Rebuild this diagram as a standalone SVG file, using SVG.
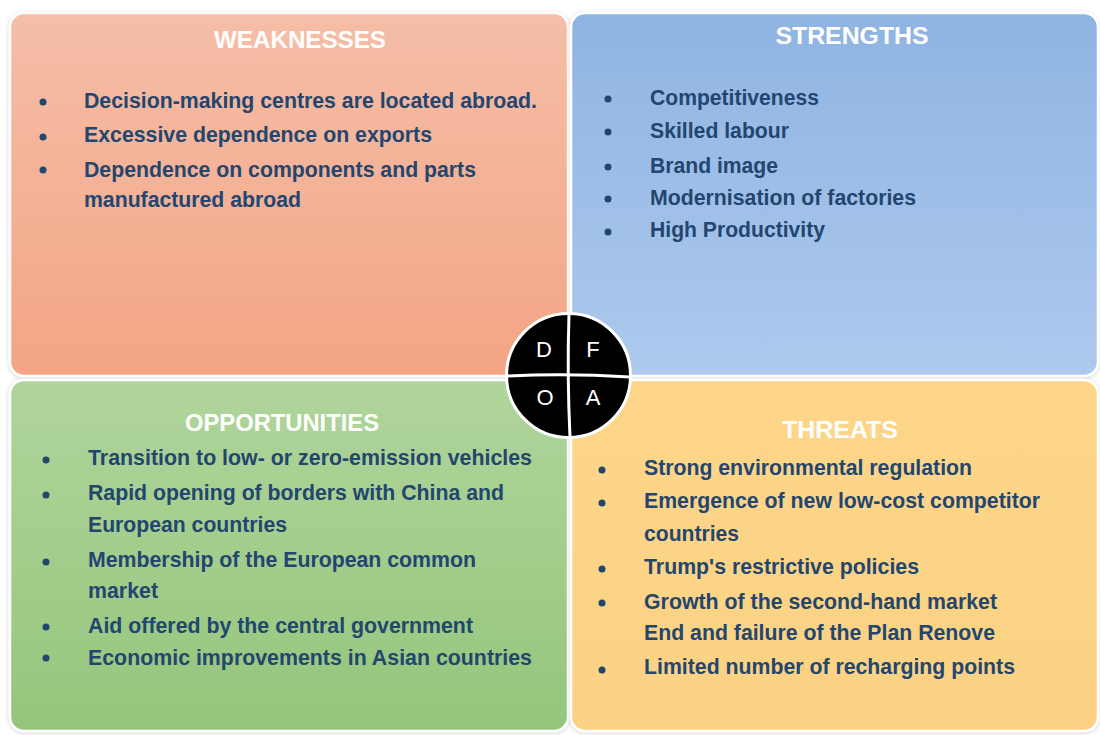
<svg xmlns="http://www.w3.org/2000/svg" width="1100" height="735" viewBox="0 0 1100 735">
  <style>
    .title { font-family: "Liberation Sans", Arial, sans-serif; font-weight: bold; font-size: 23px; fill: #ffffff; }
    .item { font-family: "Liberation Sans Narrow", "Liberation Sans", Arial, sans-serif; font-weight: bold; font-size: 22px; fill: #23466f; }
    .dot { fill: #23466f; }
    .box { stroke: #ffffff; stroke-width: 2.5; }
    .letter { font-family: "Liberation Sans", Arial, sans-serif; font-size: 22px; fill: #ffffff; text-anchor: middle; }
  </style>
  <defs>
    <linearGradient id="gW" x1="0" y1="0" x2="0" y2="1">
      <stop offset="0" stop-color="#f5bea8"/>
      <stop offset="1" stop-color="#f3a584"/>
    </linearGradient>
    <linearGradient id="gS" x1="0" y1="0" x2="0" y2="1">
      <stop offset="0" stop-color="#8fb4e2"/>
      <stop offset="1" stop-color="#adc9ee"/>
    </linearGradient>
    <linearGradient id="gO" x1="0" y1="0" x2="0" y2="1">
      <stop offset="0" stop-color="#b0d59c"/>
      <stop offset="1" stop-color="#95c57b"/>
    </linearGradient>
    <linearGradient id="gT" x1="0" y1="0" x2="0" y2="1">
      <stop offset="0" stop-color="#fdd68a"/>
      <stop offset="1" stop-color="#fbd283"/>
    </linearGradient>
    <filter id="soft" x="-5%" y="-5%" width="110%" height="110%">
      <feGaussianBlur in="SourceAlpha" stdDeviation="2"/>
      <feOffset dx="0" dy="1" result="b"/>
      <feFlood flood-color="#000000" flood-opacity="0.18"/>
      <feComposite in2="b" operator="in"/>
      <feMerge><feMergeNode/><feMergeNode in="SourceGraphic"/></feMerge>
    </filter>
  </defs>

  <rect width="1100" height="735" fill="#ffffff"/>

  <!-- Weaknesses quadrant -->
  <g id="weaknesses">
    <rect class="box" x="10" y="13" width="558" height="363" rx="14" fill="url(#gW)" filter="url(#soft)"/>
    <text class="title" x="300" y="48" text-anchor="middle" textLength="172" lengthAdjust="spacingAndGlyphs">WEAKNESSES</text>
    <circle class="dot" cx="43" cy="102" r="3.5"/>
    <circle class="dot" cx="43" cy="137" r="3.5"/>
    <circle class="dot" cx="43" cy="170" r="3.5"/>
    <text class="item" x="84" y="108" textLength="453" lengthAdjust="spacingAndGlyphs">Decision-making centres are located abroad.</text>
    <text class="item" x="84" y="142" textLength="348" lengthAdjust="spacingAndGlyphs">Excessive dependence on exports</text>
    <text class="item" x="84" y="177" textLength="392" lengthAdjust="spacingAndGlyphs">Dependence on components and parts</text>
    <text class="item" x="84" y="207" textLength="217" lengthAdjust="spacingAndGlyphs">manufactured abroad</text>
  </g>

  <!-- Strengths quadrant -->
  <g id="strengths">
    <rect class="box" x="571" y="13" width="527" height="363" rx="14" fill="url(#gS)" filter="url(#soft)"/>
    <text class="title" x="852" y="44" text-anchor="middle" textLength="153" lengthAdjust="spacingAndGlyphs">STRENGTHS</text>
    <circle class="dot" cx="608" cy="99" r="3.5"/>
    <circle class="dot" cx="608" cy="132" r="3.5"/>
    <circle class="dot" cx="608" cy="167" r="3.5"/>
    <circle class="dot" cx="608" cy="199" r="3.5"/>
    <circle class="dot" cx="608" cy="232" r="3.5"/>
    <text class="item" x="650" y="105" textLength="169" lengthAdjust="spacingAndGlyphs">Competitiveness</text>
    <text class="item" x="650" y="138" textLength="139" lengthAdjust="spacingAndGlyphs">Skilled labour</text>
    <text class="item" x="650" y="173" textLength="128" lengthAdjust="spacingAndGlyphs">Brand image</text>
    <text class="item" x="650" y="205" textLength="266" lengthAdjust="spacingAndGlyphs">Modernisation of factories</text>
    <text class="item" x="650" y="237" textLength="175" lengthAdjust="spacingAndGlyphs">High Productivity</text>
  </g>

  <!-- Opportunities quadrant -->
  <g id="opportunities">
    <rect class="box" x="10" y="380" width="558" height="351" rx="14" fill="url(#gO)" filter="url(#soft)"/>
    <text class="title" x="282" y="431" text-anchor="middle" textLength="194" lengthAdjust="spacingAndGlyphs">OPPORTUNITIES</text>
    <circle class="dot" cx="46" cy="460" r="3.5"/>
    <circle class="dot" cx="46" cy="495" r="3.5"/>
    <circle class="dot" cx="46" cy="562" r="3.5"/>
    <circle class="dot" cx="46" cy="627" r="3.5"/>
    <circle class="dot" cx="46" cy="658" r="3.5"/>
    <text class="item" x="88" y="465" textLength="444" lengthAdjust="spacingAndGlyphs">Transition to low- or zero-emission vehicles</text>
    <text class="item" x="88" y="500" textLength="416" lengthAdjust="spacingAndGlyphs">Rapid opening of borders with China and</text>
    <text class="item" x="88" y="532" textLength="199" lengthAdjust="spacingAndGlyphs">European countries</text>
    <text class="item" x="88" y="567" textLength="388" lengthAdjust="spacingAndGlyphs">Membership of the European common</text>
    <text class="item" x="88" y="598" textLength="70" lengthAdjust="spacingAndGlyphs">market</text>
    <text class="item" x="88" y="633" textLength="385" lengthAdjust="spacingAndGlyphs">Aid offered by the central government</text>
    <text class="item" x="88" y="665" textLength="444" lengthAdjust="spacingAndGlyphs">Economic improvements in Asian countries</text>
  </g>

  <!-- Threats quadrant -->
  <g id="threats">
    <rect class="box" x="571" y="380" width="527" height="351" rx="14" fill="url(#gT)" filter="url(#soft)"/>
    <text class="title" x="840" y="438" text-anchor="middle" textLength="116" lengthAdjust="spacingAndGlyphs">THREATS</text>
    <circle class="dot" cx="602" cy="470" r="3.5"/>
    <circle class="dot" cx="602" cy="503" r="3.5"/>
    <circle class="dot" cx="602" cy="569" r="3.5"/>
    <circle class="dot" cx="602" cy="603" r="3.5"/>
    <circle class="dot" cx="602" cy="670" r="3.5"/>
    <text class="item" x="644" y="475" textLength="328" lengthAdjust="spacingAndGlyphs">Strong environmental regulation</text>
    <text class="item" x="644" y="508" textLength="396" lengthAdjust="spacingAndGlyphs">Emergence of new low-cost competitor</text>
    <text class="item" x="644" y="541" textLength="95" lengthAdjust="spacingAndGlyphs">countries</text>
    <text class="item" x="644" y="574" textLength="275" lengthAdjust="spacingAndGlyphs">Trump's restrictive policies</text>
    <text class="item" x="644" y="609" textLength="353" lengthAdjust="spacingAndGlyphs">Growth of the second-hand market</text>
    <text class="item" x="644" y="640" textLength="351" lengthAdjust="spacingAndGlyphs">End and failure of the Plan Renove</text>
    <text class="item" x="644" y="674" textLength="371" lengthAdjust="spacingAndGlyphs">Limited number of recharging points</text>
  </g>

  <!-- Central DFOA badge -->
  <g id="dfoa">
    <circle cx="568.5" cy="375.5" r="62" fill="#000000" stroke="#ffffff" stroke-width="3"/>
    <path d="M569 314 Q567 375 570 437" fill="none" stroke="#ffffff" stroke-width="3"/>
    <path d="M507 376 Q568 373 630 377" fill="none" stroke="#ffffff" stroke-width="3"/>
    <text class="letter" x="544" y="357">D</text>
    <text class="letter" x="593" y="357">F</text>
    <text class="letter" x="545" y="405">O</text>
    <text class="letter" x="593" y="405">A</text>
  </g>
</svg>
